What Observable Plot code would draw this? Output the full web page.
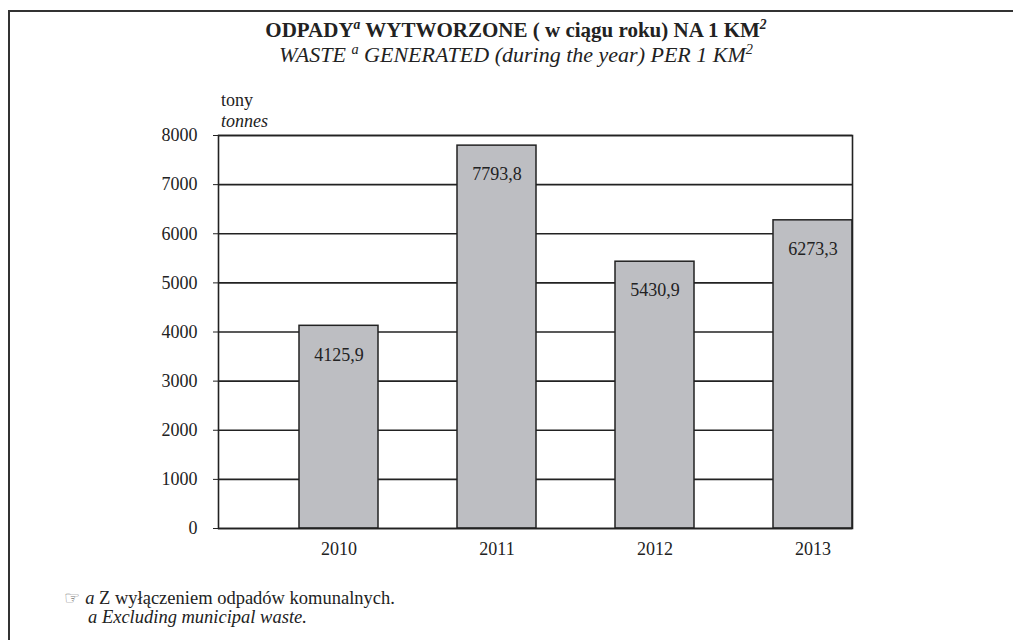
<!DOCTYPE html>
<html>
<head>
<meta charset="utf-8">
<script src="https://cdn.jsdelivr.net/npm/d3@7"></script>
<script src="https://cdn.jsdelivr.net/npm/@observablehq/plot@0.6"></script>
<style>
  body { margin: 0; background: #fff; font-family: "Liberation Serif", "Times New Roman", serif; color: #222; }
  #wrap { position: relative; width: 1013px; height: 640px; overflow: hidden; }
  #border { position: absolute; left: 8px; top: 10px; right: -5px; bottom: -5px; border-top: 2px solid #333; border-left: 2px solid #333; }
  .t { position: absolute; white-space: nowrap; }
  #title { left: 0; width: 1032px; top: 18px; text-align: center; font-weight: bold; font-size: 21px; }
  #subtitle { left: 0; width: 1032px; top: 42px; text-align: center; font-style: italic; font-size: 22px; }
  sup { font-size: 65%; line-height: 0; }
  #unit1 { left: 221px; top: 90px; font-size: 18px; }
  #unit2 { left: 221px; top: 111px; font-size: 18px; font-style: italic; }
  #chart { position: absolute; left: 0; top: 90px; }
  #fn1 { left: 64px; top: 587px; font-size: 18.5px; }
  #fn2 { left: 88px; top: 607px; font-size: 18.5px; font-style: italic; }
  .hand { font-family: "DejaVu Sans"; font-size: 18px; color: #777; margin-right: 5px; }
</style>
</head>
<body>
<div id="wrap">
  <div id="border"></div>
  <div class="t" id="title">ODPADY<sup><i>a</i></sup> WYTWORZONE ( w ciągu roku) NA 1 KM<sup><i>2</i></sup></div>
  <div class="t" id="subtitle">WASTE <sup>a</sup> GENERATED (during the year) PER 1 KM<sup>2</sup></div>
  <div class="t" id="unit1">tony</div>
  <div class="t" id="unit2">tonnes</div>
  <div id="chart"></div>
  <div class="t" id="fn1"><span class="hand">☞</span><i>a</i> Z wyłączeniem odpadów komunalnych.</div>
  <div class="t" id="fn2">a Excluding municipal waste.</div>
</div>
<script>
const years = ["2010", "2011", "2012", "2013"];
const values = [4125.9, 7793.8, 5430.9, 6273.3];
const yTicks = [0, 1000, 2000, 3000, 4000, 5000, 6000, 7000, 8000];

const data = years.map((year, i) => ({ year, value: values[i] }));
const fmt = v => v.toFixed(1).replace(".", ",");

const chart = Plot.plot({
  width: 1013,
  height: 488,
  marginTop: 45,
  marginBottom: 50,
  marginLeft: 218,
  marginRight: 161,
  style: { fontFamily: "'Liberation Serif', 'Times New Roman', serif", fontSize: "18px", color: "#222", background: "transparent" },
  x: { domain: years, paddingInner: 0.5, paddingOuter: 0.25, align: 1, label: null, tickSize: 0, tickPadding: 14 },
  y: { domain: [0, 8000], ticks: yTicks, label: null, tickSize: 5, tickPadding: 16, tickFormat: d => String(d) },
  marks: [
    Plot.ruleY(yTicks, { stroke: "#222", strokeWidth: 1.6 }),
    Plot.barY(data, { x: "year", y: "value", fill: "#bdbec2", stroke: "#222", strokeWidth: 1.5 }),
    Plot.text(data, { x: "year", y: "value", text: d => fmt(d.value), dy: 29, fontSize: 18, fill: "#222" }),
    Plot.frame({ stroke: "#222", strokeWidth: 1.6 })
  ]
});
document.getElementById("chart").appendChild(chart);
</script>
</body>
</html>
